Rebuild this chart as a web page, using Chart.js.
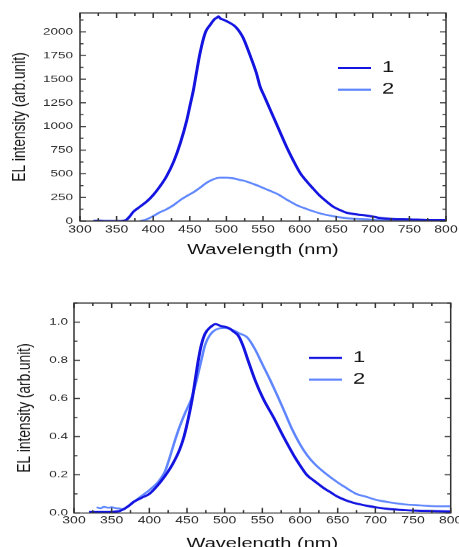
<!DOCTYPE html>
<html>
<head>
<meta charset="utf-8">
<script src="https://cdn.jsdelivr.net/npm/chart.js@4/dist/chart.umd.min.js"></script>
<style>
html,body{margin:0;padding:0;background:#fff;overflow:hidden;width:459px;height:547px;}
.wrap{position:absolute;left:0;width:459px;transform-origin:0 0;transform:scaleY(0.72);}
canvas{display:block;}
</style>
</head>
<body>
<div class="wrap" style="top:0px"><canvas id="c1" width="459" height="364"></canvas></div>
<div class="wrap" style="top:280px"><canvas id="c2" width="459" height="380"></canvas></div>
<script>
// ---------- DATA ----------
const seriesNames = ['1', '2'];

// Top panel: absolute EL intensity (arb.unit)
const wlTop1 = [318,325,335,350,360,364,368,373,380,391,400,409,418,428,437,446,450,455,459,464,471,478,484,487,489,492,496,500,505,510,514,519,523,532,541,546,550,555,560,564,573,582,591,601,610,619,628,637,646,655,664,678,692,701,710,728,751,774,799];
const elTop1 = [0,4,0,0,5,17,50,99,141,205,275,364,470,629,823,1070,1211,1388,1564,1776,1988,2076,2136,2150,2164,2140,2129,2115,2094,2070,2041,1990,1935,1759,1564,1422,1350,1264,1175,1105,946,788,646,505,417,339,265,205,152,117,88,71,57,46,32,21,18,11,11];
const wlTop2 = [382,391,400,409,418,428,437,446,455,464,473,482,491,500,509,519,528,537,546,560,570,582,596,610,623,637,655,673,692,710,751,799];
const elTop2 = [0,18,53,92,124,169,222,265,304,353,406,441,459,459,452,434,417,392,364,318,285,229,169,127,92,64,39,25,18,11,11,7];

// Bottom panel: normalized EL intensity
const wlBot1 = [320,340,360,370,380,390,400,410,420,430,440,446,452,457,461,465,469,474,480,488,495,505,512,518,524,531,540,551,565,578,592,600,609,620,630,640,650,660,670,680,690,700,720,740,760,780,800];
const elBot1 = [0.005,0.005,0.01,0.03,0.06,0.08,0.10,0.14,0.19,0.25,0.33,0.40,0.50,0.60,0.70,0.80,0.88,0.94,0.97,0.99,0.98,0.97,0.95,0.93,0.88,0.80,0.70,0.60,0.50,0.40,0.30,0.25,0.20,0.165,0.135,0.11,0.085,0.068,0.055,0.045,0.037,0.03,0.02,0.015,0.012,0.01,0.008];
const wlBot2 = [330,335,340,345,350,355,360,365,370,380,390,400,410,415,421,427,434,440,447,456,463,469,474,480,488,500,510,520,530,540,550,560,570,580,590,600,610,620,633,650,662,675,688,700,720,740,760,780,800];
const elBot2 = [0.03,0.025,0.032,0.028,0.03,0.026,0.024,0.02,0.03,0.06,0.09,0.12,0.155,0.18,0.22,0.29,0.38,0.45,0.52,0.60,0.70,0.80,0.88,0.93,0.96,0.97,0.96,0.94,0.92,0.86,0.78,0.70,0.615,0.525,0.435,0.36,0.30,0.255,0.21,0.16,0.13,0.10,0.085,0.07,0.055,0.045,0.04,0.035,0.035];

// Tick labels
const xTickValues = [300,350,400,450,500,550,600,650,700,750,800];
const yTickTop = [0,250,500,750,1000,1250,1500,1750,2000];
const yTickBot = [0.0,0.2,0.4,0.6,0.8,1.0];

const xTitle = 'Wavelength (nm)';
const yTitle = 'EL intensity (arb.unit)';

// ---------- STYLE ----------
const COLOR1 = '#1414e0';
const COLOR2 = '#5f86ff';
const FONT = "'Liberation Sans', Arial, Helvetica, sans-serif";
Chart.defaults.font.family = FONT;
Chart.defaults.color = '#222';

function pts(xs, ys) { return xs.map((x, i) => ({x: x, y: ys[i]})); }

const frameTicks = {
  id: 'frameTicks',
  afterDatasetsDraw(chart, args, opts) {
    const {ctx, chartArea: a} = chart;
    const x = chart.scales.x, y = chart.scales.y;
    ctx.save();
    ctx.strokeStyle = '#333';
    ctx.lineWidth = 1.5;
    ctx.beginPath();
    const near = (v, s) => Math.abs(v / s - Math.round(v / s)) < 1e-6;
    for (let v = x.min; v <= x.max + 1e-9; v += opts.xMinor) {
      const px = x.getPixelForValue(v);
      const L = near(v, opts.xMajor) ? 7 : 4;
      ctx.moveTo(px, a.bottom); ctx.lineTo(px, a.bottom - L);
      ctx.moveTo(px, a.top); ctx.lineTo(px, a.top + L);
    }
    for (let v = y.min; v <= y.max + 1e-9; v += opts.yMinor) {
      const py = y.getPixelForValue(v);
      const L = near(v, opts.yMajor) ? 6 : 3.5;
      ctx.moveTo(a.left, py); ctx.lineTo(a.left + L, py);
      ctx.moveTo(a.right, py); ctx.lineTo(a.right - L, py);
    }
    ctx.stroke();
    ctx.strokeRect(a.left, a.top, a.right - a.left, a.bottom - a.top);
    ctx.restore();
  }
};

const placeLegend = {
  id: 'placeLegend',
  beforeDraw(chart, args, opts) {
    const lg = chart.legend;
    if (!lg) return;
    lg.left = opts.left; lg.top = opts.top;
    lg.right = opts.left + 150; lg.bottom = opts.top + 150;
    lg.width = 150; lg.height = 150;
  }
};

function makeChart(id, cfg) {
  return new Chart(document.getElementById(id), {
    type: 'line',
    data: {
      datasets: [
        {label: seriesNames[0], data: pts(cfg.x1, cfg.y1), borderColor: COLOR1, backgroundColor: COLOR1,
         borderWidth: 3, pointRadius: 0, fill: false, cubicInterpolationMode: 'monotone'},
        {label: seriesNames[1], data: pts(cfg.x2, cfg.y2), borderColor: COLOR2, backgroundColor: COLOR2,
         borderWidth: 2.6, pointRadius: 0, fill: false, cubicInterpolationMode: 'monotone'}
      ]
    },
    options: {
      responsive: false,
      maintainAspectRatio: false,
      animation: false,
      devicePixelRatio: window.devicePixelRatio || 1,
      layout: {padding: cfg.padding},
      plugins: {
        tooltip: {enabled: false},
        legend: {
          display: true,
          position: 'chartArea',
          align: 'start',
          labels: {
            boxWidth: 33, boxHeight: 3, padding: 8, color: '#111',
            font: {size: 22, family: FONT},
            generateLabels: (chart) => Chart.defaults.plugins.legend.labels.generateLabels(chart)
              .map(l => Object.assign(l, {lineWidth: 0}))
          }
        },
        frameTicks: cfg.ticks,
        placeLegend: cfg.legend
      },
      scales: {
        x: {
          type: 'linear', min: 300, max: 800,
          grid: {display: false, drawTicks: false}, border: {display: false},
          afterBuildTicks: s => { s.ticks = xTickValues.map(v => ({value: v})); },
          ticks: {padding: cfg.xPad, maxRotation: 0, minRotation: 0, autoSkip: false,
                  font: {size: 14}, color: '#2a2a2a'},
          title: {display: true, text: xTitle, color: '#111', font: {size: 20},
                  padding: {top: 0, bottom: cfg.xTitlePad}},
          afterFit: s => { s.height = cfg.xHeight; s.paddingLeft = 0; s.paddingRight = 0; }
        },
        y: {
          type: 'linear', min: 0, max: cfg.yMax,
          grid: {display: false, drawTicks: false}, border: {display: false},
          afterBuildTicks: s => { s.ticks = cfg.yTicks.map(v => ({value: v})); },
          ticks: {padding: cfg.yPad, font: {size: 13.5}, color: '#2a2a2a',
                  callback: cfg.yFmt},
          title: {display: true, text: yTitle, color: '#111', font: {size: 19},
                  padding: {top: cfg.yTitlePad, bottom: 0}},
          afterFit: s => { s.width = cfg.yWidth; s.paddingTop = 0; s.paddingBottom = 0; }
        }
      }
    },
    plugins: [frameTicks, placeLegend]
  });
}

makeChart('c1', {
  x1: wlTop1, y1: elTop1, x2: wlTop2, y2: elTop2,
  yMax: 2200, yTicks: yTickTop, yFmt: v => String(v),
  padding: {left: 0, right: 13, top: 18, bottom: 0},
  xHeight: 57, yWidth: 80, xPad: 3.4, yPad: 7, xTitlePad: 5, yTitlePad: 8,
  ticks: {xMinor: 25, xMajor: 50, yMinor: 125, yMajor: 250},
  legend: {left: 330, top: 75.4}
});

makeChart('c2', {
  x1: wlBot1, y1: elBot1, x2: wlBot2, y2: elBot2,
  yMax: 1.1, yTicks: yTickBot, yFmt: v => Number(v).toFixed(1),
  padding: {left: 0, right: 8.3, top: 32, bottom: 0},
  xHeight: 56.4, yWidth: 74, xPad: 2, yPad: 6, xTitlePad: 2, yTitlePad: 13.6,
  ticks: {xMinor: 25, xMajor: 50, yMinor: 0.1, yMajor: 0.2},
  legend: {left: 301, top: 89.3}
});
</script>
</body>
</html>
